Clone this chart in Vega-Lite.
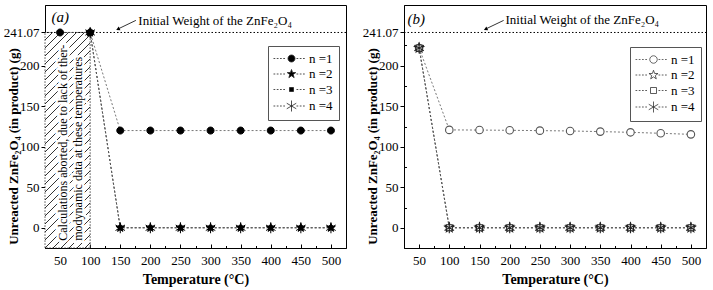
{
  "$schema": "https://vega.github.io/schema/vega-lite/v6.json",
  "background": "white",
  "padding": {"left": 2, "top": 4, "right": 0, "bottom": 0},
  "spacing": 14,
  "config": {
    "view": {"stroke": "black", "strokeWidth": 1},
    "font": "Liberation Serif",
    "axis": {
      "domainColor": "black", "domainWidth": 1, "tickColor": "black", "tickWidth": 1,
      "labelFont": "Liberation Serif", "labelFontSize": 13, "labelColor": "black",
      "titleFont": "Liberation Serif", "titleFontWeight": "bold", "titleColor": "black",
      "grid": false, "labelOverlap": false, "labelFlush": false, "labelBound": false
    },
    "axisX": {"tickSize": -4, "labelPadding": 10, "titleFontSize": 14, "titleBaseline": "alphabetic", "titleY": 35},
    "axisY": {"tickSize": 4, "labelPadding": 2, "titleFontSize": 13, "titleBaseline": "alphabetic", "titleX": -28, "titleY": 141},
    "legend": {
      "labelFont": "Liberation Serif", "labelFontSize": 13, "labelColor": "black",
      "strokeColor": "#555", "strokeWidth": 1, "padding": 6, "rowPadding": 1.5,
      "symbolSize": 100, "symbolStrokeWidth": 0.8, "symbolOffset": 11, "labelOffset": 11
    }
  },
  "datasets": {
    "a": [
      {"n": "n =1", "T": 50, "w": 241.07}, {"n": "n =1", "T": 100, "w": 241.07}, {"n": "n =1", "T": 150, "w": 120}, {"n": "n =1", "T": 200, "w": 120}, {"n": "n =1", "T": 250, "w": 120}, {"n": "n =1", "T": 300, "w": 120}, {"n": "n =1", "T": 350, "w": 120}, {"n": "n =1", "T": 400, "w": 120}, {"n": "n =1", "T": 450, "w": 120}, {"n": "n =1", "T": 500, "w": 120},
      {"n": "n =2", "T": 100, "w": 241.07}, {"n": "n =2", "T": 150, "w": 0}, {"n": "n =2", "T": 200, "w": 0}, {"n": "n =2", "T": 250, "w": 0}, {"n": "n =2", "T": 300, "w": 0}, {"n": "n =2", "T": 350, "w": 0}, {"n": "n =2", "T": 400, "w": 0}, {"n": "n =2", "T": 450, "w": 0}, {"n": "n =2", "T": 500, "w": 0},
      {"n": "n =3", "T": 100, "w": 241.07}, {"n": "n =3", "T": 150, "w": 0}, {"n": "n =3", "T": 200, "w": 0}, {"n": "n =3", "T": 250, "w": 0}, {"n": "n =3", "T": 300, "w": 0}, {"n": "n =3", "T": 350, "w": 0}, {"n": "n =3", "T": 400, "w": 0}, {"n": "n =3", "T": 450, "w": 0}, {"n": "n =3", "T": 500, "w": 0},
      {"n": "n =4", "T": 100, "w": 241.07}, {"n": "n =4", "T": 150, "w": 0}, {"n": "n =4", "T": 200, "w": 0}, {"n": "n =4", "T": 250, "w": 0}, {"n": "n =4", "T": 300, "w": 0}, {"n": "n =4", "T": 350, "w": 0}, {"n": "n =4", "T": 400, "w": 0}, {"n": "n =4", "T": 450, "w": 0}, {"n": "n =4", "T": 500, "w": 0}
    ],
    "b": [
      {"n": "n =1", "T": 50, "w": 222}, {"n": "n =1", "T": 100, "w": 120.8}, {"n": "n =1", "T": 150, "w": 120.6}, {"n": "n =1", "T": 200, "w": 120.3}, {"n": "n =1", "T": 250, "w": 119.9}, {"n": "n =1", "T": 300, "w": 119.5}, {"n": "n =1", "T": 350, "w": 118.7}, {"n": "n =1", "T": 400, "w": 117.8}, {"n": "n =1", "T": 450, "w": 116.6}, {"n": "n =1", "T": 500, "w": 115.3},
      {"n": "n =2", "T": 50, "w": 222}, {"n": "n =2", "T": 100, "w": 0}, {"n": "n =2", "T": 150, "w": 0}, {"n": "n =2", "T": 200, "w": 0}, {"n": "n =2", "T": 250, "w": 0}, {"n": "n =2", "T": 300, "w": 0}, {"n": "n =2", "T": 350, "w": 0}, {"n": "n =2", "T": 400, "w": 0}, {"n": "n =2", "T": 450, "w": 0}, {"n": "n =2", "T": 500, "w": 0},
      {"n": "n =3", "T": 50, "w": 222}, {"n": "n =3", "T": 100, "w": 0}, {"n": "n =3", "T": 150, "w": 0}, {"n": "n =3", "T": 200, "w": 0}, {"n": "n =3", "T": 250, "w": 0}, {"n": "n =3", "T": 300, "w": 0}, {"n": "n =3", "T": 350, "w": 0}, {"n": "n =3", "T": 400, "w": 0}, {"n": "n =3", "T": 450, "w": 0}, {"n": "n =3", "T": 500, "w": 0},
      {"n": "n =4", "T": 50, "w": 222}, {"n": "n =4", "T": 100, "w": 0}, {"n": "n =4", "T": 150, "w": 0}, {"n": "n =4", "T": 200, "w": 0}, {"n": "n =4", "T": 250, "w": 0}, {"n": "n =4", "T": 300, "w": 0}, {"n": "n =4", "T": 350, "w": 0}, {"n": "n =4", "T": 400, "w": 0}, {"n": "n =4", "T": 450, "w": 0}, {"n": "n =4", "T": 500, "w": 0}
    ]
  },
  "resolve": {
    "scale": {"x": "independent", "y": "independent", "shape": "independent", "fill": "independent", "stroke": "independent"},
    "legend": {"shape": "independent", "fill": "independent", "stroke": "independent"}
  },
  "hconcat": [
    {
      "width": 301, "height": 243,
      "resolve": {"axis": {"x": "independent", "y": "independent"}},
      "layer": [
        {
          "resolve": {"scale": {"shape": "independent", "fill": "independent", "stroke": "independent"}, "legend": {"shape": "independent", "fill": "independent", "stroke": "independent"}},
          "layer": [
            {
              "data": {"values": [{}]},
              "mark": {"type": "rect", "stroke": "#222", "strokeWidth": 0.8, "strokeDash": [1.5, 1.5], "fill": {"gradient": "linear", "x1": 0, "y1": 0, "x2": 0.298, "y2": 1.422, "stops": [
                {"offset": 0, "color": "#fff"}, {"offset": 0.021, "color": "#fff"}, {"offset": 0.0215, "color": "#333"}, {"offset": 0.0245, "color": "#333"},
                {"offset": 0.025, "color": "#fff"}, {"offset": 0.046, "color": "#fff"}, {"offset": 0.0465, "color": "#333"}, {"offset": 0.0495, "color": "#333"},
                {"offset": 0.05, "color": "#fff"}, {"offset": 0.071, "color": "#fff"}, {"offset": 0.0715, "color": "#333"}, {"offset": 0.0745, "color": "#333"},
                {"offset": 0.075, "color": "#fff"}, {"offset": 0.096, "color": "#fff"}, {"offset": 0.0965, "color": "#333"}, {"offset": 0.0995, "color": "#333"},
                {"offset": 0.1, "color": "#fff"}, {"offset": 0.121, "color": "#fff"}, {"offset": 0.1215, "color": "#333"}, {"offset": 0.1245, "color": "#333"},
                {"offset": 0.125, "color": "#fff"}, {"offset": 0.146, "color": "#fff"}, {"offset": 0.1465, "color": "#333"}, {"offset": 0.1495, "color": "#333"},
                {"offset": 0.15, "color": "#fff"}, {"offset": 0.171, "color": "#fff"}, {"offset": 0.1715, "color": "#333"}, {"offset": 0.1745, "color": "#333"},
                {"offset": 0.175, "color": "#fff"}, {"offset": 0.196, "color": "#fff"}, {"offset": 0.1965, "color": "#333"}, {"offset": 0.1995, "color": "#333"},
                {"offset": 0.2, "color": "#fff"}, {"offset": 0.221, "color": "#fff"}, {"offset": 0.2215, "color": "#333"}, {"offset": 0.2245, "color": "#333"},
                {"offset": 0.225, "color": "#fff"}, {"offset": 0.246, "color": "#fff"}, {"offset": 0.2465, "color": "#333"}, {"offset": 0.2495, "color": "#333"},
                {"offset": 0.25, "color": "#fff"}, {"offset": 0.271, "color": "#fff"}, {"offset": 0.2715, "color": "#333"}, {"offset": 0.2745, "color": "#333"},
                {"offset": 0.275, "color": "#fff"}, {"offset": 0.296, "color": "#fff"}, {"offset": 0.2965, "color": "#333"}, {"offset": 0.2995, "color": "#333"},
                {"offset": 0.3, "color": "#fff"}, {"offset": 0.321, "color": "#fff"}, {"offset": 0.3215, "color": "#333"}, {"offset": 0.3245, "color": "#333"},
                {"offset": 0.325, "color": "#fff"}, {"offset": 0.346, "color": "#fff"}, {"offset": 0.3465, "color": "#333"}, {"offset": 0.3495, "color": "#333"},
                {"offset": 0.35, "color": "#fff"}, {"offset": 0.371, "color": "#fff"}, {"offset": 0.3715, "color": "#333"}, {"offset": 0.3745, "color": "#333"},
                {"offset": 0.375, "color": "#fff"}, {"offset": 0.396, "color": "#fff"}, {"offset": 0.3965, "color": "#333"}, {"offset": 0.3995, "color": "#333"},
                {"offset": 0.4, "color": "#fff"}, {"offset": 0.421, "color": "#fff"}, {"offset": 0.4215, "color": "#333"}, {"offset": 0.4245, "color": "#333"},
                {"offset": 0.425, "color": "#fff"}, {"offset": 0.446, "color": "#fff"}, {"offset": 0.4465, "color": "#333"}, {"offset": 0.4495, "color": "#333"},
                {"offset": 0.45, "color": "#fff"}, {"offset": 0.471, "color": "#fff"}, {"offset": 0.4715, "color": "#333"}, {"offset": 0.4745, "color": "#333"},
                {"offset": 0.475, "color": "#fff"}, {"offset": 0.496, "color": "#fff"}, {"offset": 0.4965, "color": "#333"}, {"offset": 0.4995, "color": "#333"},
                {"offset": 0.5, "color": "#fff"}, {"offset": 0.521, "color": "#fff"}, {"offset": 0.5215, "color": "#333"}, {"offset": 0.5245, "color": "#333"},
                {"offset": 0.525, "color": "#fff"}, {"offset": 0.546, "color": "#fff"}, {"offset": 0.5465, "color": "#333"}, {"offset": 0.5495, "color": "#333"},
                {"offset": 0.55, "color": "#fff"}, {"offset": 0.571, "color": "#fff"}, {"offset": 0.5715, "color": "#333"}, {"offset": 0.5745, "color": "#333"},
                {"offset": 0.575, "color": "#fff"}, {"offset": 0.596, "color": "#fff"}, {"offset": 0.5965, "color": "#333"}, {"offset": 0.5995, "color": "#333"},
                {"offset": 0.6, "color": "#fff"}, {"offset": 0.621, "color": "#fff"}, {"offset": 0.6215, "color": "#333"}, {"offset": 0.6245, "color": "#333"},
                {"offset": 0.625, "color": "#fff"}, {"offset": 0.646, "color": "#fff"}, {"offset": 0.6465, "color": "#333"}, {"offset": 0.6495, "color": "#333"},
                {"offset": 0.65, "color": "#fff"}, {"offset": 0.671, "color": "#fff"}, {"offset": 0.6715, "color": "#333"}, {"offset": 0.6745, "color": "#333"},
                {"offset": 0.675, "color": "#fff"}, {"offset": 0.696, "color": "#fff"}, {"offset": 0.6965, "color": "#333"}, {"offset": 0.6995, "color": "#333"},
                {"offset": 0.7, "color": "#fff"}, {"offset": 0.721, "color": "#fff"}, {"offset": 0.7215, "color": "#333"}, {"offset": 0.7245, "color": "#333"},
                {"offset": 0.725, "color": "#fff"}, {"offset": 0.746, "color": "#fff"}, {"offset": 0.7465, "color": "#333"}, {"offset": 0.7495, "color": "#333"},
                {"offset": 0.75, "color": "#fff"}, {"offset": 0.771, "color": "#fff"}, {"offset": 0.7715, "color": "#333"}, {"offset": 0.7745, "color": "#333"},
                {"offset": 0.775, "color": "#fff"}, {"offset": 0.796, "color": "#fff"}, {"offset": 0.7965, "color": "#333"}, {"offset": 0.7995, "color": "#333"},
                {"offset": 0.8, "color": "#fff"}, {"offset": 0.821, "color": "#fff"}, {"offset": 0.8215, "color": "#333"}, {"offset": 0.8245, "color": "#333"},
                {"offset": 0.825, "color": "#fff"}, {"offset": 0.846, "color": "#fff"}, {"offset": 0.8465, "color": "#333"}, {"offset": 0.8495, "color": "#333"},
                {"offset": 0.85, "color": "#fff"}, {"offset": 0.871, "color": "#fff"}, {"offset": 0.8715, "color": "#333"}, {"offset": 0.8745, "color": "#333"},
                {"offset": 0.875, "color": "#fff"}, {"offset": 0.896, "color": "#fff"}, {"offset": 0.8965, "color": "#333"}, {"offset": 0.8995, "color": "#333"},
                {"offset": 0.9, "color": "#fff"}, {"offset": 0.921, "color": "#fff"}, {"offset": 0.9215, "color": "#333"}, {"offset": 0.9245, "color": "#333"},
                {"offset": 0.925, "color": "#fff"}, {"offset": 0.946, "color": "#fff"}, {"offset": 0.9465, "color": "#333"}, {"offset": 0.9495, "color": "#333"},
                {"offset": 0.95, "color": "#fff"}, {"offset": 0.971, "color": "#fff"}, {"offset": 0.9715, "color": "#333"}, {"offset": 0.9745, "color": "#333"},
                {"offset": 0.975, "color": "#fff"}, {"offset": 0.996, "color": "#fff"}, {"offset": 0.9965, "color": "#333"}, {"offset": 0.9995, "color": "#333"},
                {"offset": 1, "color": "#fff"}
              ]}},
              "encoding": {
                "x": {"datum": 25, "type": "quantitative", "scale": {"domain": [25, 525], "nice": false, "zero": false},
                      "axis": {"orient": "bottom", "title": "Temperature (°C)", "labelOverlap": false, "values": [50, 150, 250, 350, 450], "labelExpr": "format(datum.value, 'd')"}},
                "x2": {"datum": 100},
                "y": {"datum": -25, "type": "quantitative", "scale": {"domain": [-25, 275], "nice": false, "zero": false},
                      "axis": {"orient": "left", "title": "Unreacted ZnFe₂O₄ (in product) (g)", "labelOverlap": false, "values": [0, 50, 100, 150, 200, 241.07],
                               "labelExpr": "datum.value === 241.07 ? '241.07' : format(datum.value, 'd')"}},
                "y2": {"datum": 241.07}
              }
            },
            {
              "data": {"values": [{}]},
              "mark": {"type": "rule", "color": "black", "strokeWidth": 1, "strokeDash": [1.5, 2]},
              "encoding": {"y": {"datum": 241.07, "type": "quantitative"}}
            },
            {
              "data": {"values": [{}]},
              "mark": {"type": "text", "angle": 270, "align": "left", "baseline": "middle", "font": "Liberation Serif", "fontSize": 12, "lineHeight": 15,
                       "text": ["Calculations  aborted, due to lack of ther-", "modynamic data at these temperatures"], "fill": "white", "stroke": "white", "strokeWidth": 5},
              "encoding": {"x": {"datum": 55, "type": "quantitative"}, "y": {"datum": -16, "type": "quantitative"}}
            },
            {
              "data": {"values": [{}]},
              "mark": {"type": "text", "angle": 270, "align": "left", "baseline": "middle", "font": "Liberation Serif", "fontSize": 12, "lineHeight": 15,
                       "text": ["Calculations  aborted, due to lack of ther-", "modynamic data at these temperatures"], "fill": "black"},
              "encoding": {"x": {"datum": 55, "type": "quantitative"}, "y": {"datum": -16, "type": "quantitative"}}
            },
            {
              "data": {"name": "a"},
              "mark": {"type": "line", "color": "#555", "strokeWidth": 0.8, "strokeDash": [2, 2]},
              "encoding": {"x": {"field": "T", "type": "quantitative"}, "y": {"field": "w", "type": "quantitative"}, "detail": {"field": "n"}}
            },
            {
              "data": {"name": "a"},
              "mark": {"type": "point", "size": 100, "strokeWidth": 1, "opacity": 1},
              "encoding": {
                "x": {"field": "T", "type": "quantitative"},
                "y": {"field": "w", "type": "quantitative"},
                "shape": {"field": "n", "type": "nominal", "legend": null,
                  "scale": {"domain": ["n =1", "n =2", "n =3", "n =4"], "range": [
                    "M0.7,0A0.7,0.7,0,1,1,-0.7,0A0.7,0.7,0,1,1,0.7,0Z",
                    "M0,-0.9L0.212,-0.291L0.856,-0.278L0.342,0.111L0.529,0.728L0,0.36L-0.529,0.728L-0.342,0.111L-0.856,-0.278L-0.212,-0.291Z",
                    "M-0.4,-0.4H0.4V0.4H-0.4Z",
                    "M0,-1.1V1.1M-0.95,-0.55L0.95,0.55M-0.95,0.55L0.95,-0.55"]}},
                "fill": {"field": "n", "type": "nominal", "legend": null, "scale": {"domain": ["n =1", "n =2", "n =3", "n =4"], "range": ["black", "black", "black", "transparent"]}},
                "stroke": {"field": "n", "type": "nominal", "legend": null, "scale": {"domain": ["n =1", "n =2", "n =3", "n =4"], "range": ["black", "black", "black", "black"]}}
              }
            },
            {
              "data": {"values": []},
              "mark": {"type": "point", "size": 100, "strokeWidth": 0.8, "opacity": 1},
              "encoding": {
                "x": {"field": "T", "type": "quantitative"},
                "y": {"field": "w", "type": "quantitative"},
                "shape": {"field": "n", "type": "nominal",
                  "scale": {"domain": ["n =1", "n =2", "n =3", "n =4"], "range": [
                    "M-3.6,0h0.35m0.3,0h0.35m0.3,0h0.35m0.3,0h0.35M1.0,0h0.35m0.3,0h0.35m0.3,0h0.35M0.7,0A0.7,0.7,0,1,1,-0.7,0A0.7,0.7,0,1,1,0.7,0Z",
                    "M-3.6,0h0.35m0.3,0h0.35m0.3,0h0.35m0.3,0h0.35M1.0,0h0.35m0.3,0h0.35m0.3,0h0.35M0,-0.9L0.212,-0.291L0.856,-0.278L0.342,0.111L0.529,0.728L0,0.36L-0.529,0.728L-0.342,0.111L-0.856,-0.278L-0.212,-0.291Z",
                    "M-3.6,0h0.35m0.3,0h0.35m0.3,0h0.35m0.3,0h0.35M1.0,0h0.35m0.3,0h0.35m0.3,0h0.35M-0.4,-0.4H0.4V0.4H-0.4Z",
                    "M-3.6,0h0.35m0.3,0h0.35m0.3,0h0.35m0.3,0h0.35M1.0,0h0.35m0.3,0h0.35m0.3,0h0.35M0,-1.1V1.1M-0.95,-0.55L0.95,0.55M-0.95,0.55L0.95,-0.55"]},
                  "legend": {"title": null, "orient": "none", "legendX": 223, "legendY": 41}},
                "fill": {"field": "n", "type": "nominal", "scale": {"domain": ["n =1", "n =2", "n =3", "n =4"], "range": ["black", "black", "black", "transparent"]}, "legend": {"title": null, "orient": "none", "legendX": 223, "legendY": 41}},
                "stroke": {"field": "n", "type": "nominal", "scale": {"domain": ["n =1", "n =2", "n =3", "n =4"], "range": ["#222", "#222", "#222", "#222"]}, "legend": {"title": null, "orient": "none", "legendX": 223, "legendY": 41}}
              }
            },
            {
              "data": {"values": [{}]},
              "mark": {"type": "text", "text": "(a)", "fontStyle": "italic", "fontSize": 15, "font": "Liberation Serif", "align": "left", "baseline": "middle"},
              "encoding": {"x": {"datum": 36, "type": "quantitative"}, "y": {"datum": 260, "type": "quantitative"}}
            },
            {
              "data": {"values": [{}]},
              "mark": {"type": "text", "text": "Initial Weight of the ZnFe₂O₄", "fontSize": 13, "font": "Liberation Serif", "align": "left", "baseline": "middle"},
              "encoding": {"x": {"datum": 180, "type": "quantitative"}, "y": {"datum": 255, "type": "quantitative"}}
            },
            {
              "data": {"values": [{}]},
              "mark": {"type": "rule", "color": "black", "strokeWidth": 0.8},
              "encoding": {"x": {"datum": 176, "type": "quantitative"}, "y": {"datum": 256, "type": "quantitative"}, "x2": {"datum": 148}, "y2": {"datum": 246}}
            },
            {
              "data": {"values": [{}]},
              "mark": {"type": "point", "shape": "triangle", "filled": true, "color": "black", "size": 18, "angle": 246, "opacity": 1},
              "encoding": {"x": {"datum": 147, "type": "quantitative"}, "y": {"datum": 245.5, "type": "quantitative"}}
            }
          ]
        },
        {
          "data": {"values": [{}]},
          "mark": {"type": "point", "opacity": 0},
          "encoding": {
            "x": {"datum": 25, "type": "quantitative", "axis": {"orient": "bottom", "values": [100, 200, 300, 400, 500], "labelOverlap": false, "labelExpr": "format(datum.value, 'd')", "domain": false, "title": null}}
          }
        },
        {
          "data": {"values": [{}]},
          "mark": {"type": "point", "opacity": 0},
          "encoding": {
            "x": {"datum": 25, "type": "quantitative", "axis": {"orient": "bottom", "values": [75, 125, 175, 225, 275, 325, 375, 425, 475], "labels": false, "domain": false, "title": null, "tickSize": -2.5}},
            "y": {"datum": 0, "type": "quantitative", "axis": {"orient": "left", "values": [25, 75, 125, 175, 225], "labels": false, "domain": false, "title": null, "tickSize": -2.5}}
          }
        }
      ]
    },
    {
      "width": 302, "height": 243,
      "resolve": {"axis": {"x": "independent", "y": "independent"}},
      "layer": [
        {
          "resolve": {"scale": {"shape": "independent", "fill": "independent", "stroke": "independent"}, "legend": {"shape": "independent", "fill": "independent", "stroke": "independent"}},
          "layer": [
            {
              "data": {"values": [{}]},
              "mark": {"type": "rule", "color": "black", "strokeWidth": 1, "strokeDash": [1.5, 2]},
              "encoding": {
                "x": {"datum": 25, "type": "quantitative", "scale": {"domain": [25, 525], "nice": false, "zero": false},
                      "axis": {"orient": "bottom", "title": "Temperature (°C)", "labelOverlap": false, "values": [50, 150, 250, 350, 450], "labelExpr": "format(datum.value, 'd')"}},
                "x2": {"datum": 525},
                "y": {"datum": 241.07, "type": "quantitative", "scale": {"domain": [-25, 275], "nice": false, "zero": false},
                      "axis": {"orient": "left", "title": "Unreacted ZnFe₂O₄ (in product) (g)", "labelOverlap": false, "values": [0, 50, 100, 150, 200, 241.07],
                               "labelExpr": "datum.value === 241.07 ? '241.07' : format(datum.value, 'd')"}}
              }
            },
            {
              "data": {"name": "b"},
              "mark": {"type": "line", "color": "#555", "strokeWidth": 0.8, "strokeDash": [2, 2]},
              "encoding": {"x": {"field": "T", "type": "quantitative"}, "y": {"field": "w", "type": "quantitative"}, "detail": {"field": "n"}}
            },
            {
              "data": {"name": "b"},
              "mark": {"type": "point", "size": 100, "strokeWidth": 1.1, "opacity": 1},
              "encoding": {
                "x": {"field": "T", "type": "quantitative"},
                "y": {"field": "w", "type": "quantitative"},
                "shape": {"field": "n", "type": "nominal", "legend": null,
                  "scale": {"domain": ["n =1", "n =2", "n =3", "n =4"], "range": [
                    "M0.75,0A0.75,0.75,0,1,1,-0.75,0A0.75,0.75,0,1,1,0.75,0Z",
                    "M0,-0.95L0.223,-0.307L0.904,-0.294L0.361,0.117L0.558,0.769L0,0.38L-0.558,0.769L-0.361,0.117L-0.904,-0.294L-0.223,-0.307Z",
                    "M-0.6,-0.6H0.6V0.6H-0.6Z",
                    "M0,-1.1V1.1M-0.95,-0.55L0.95,0.55M-0.95,0.55L0.95,-0.55"]}},
                "fill": {"field": "n", "type": "nominal", "legend": null, "scale": {"domain": ["n =1", "n =2", "n =3", "n =4"], "range": ["white", "white", "white", "transparent"]}},
                "stroke": {"field": "n", "type": "nominal", "legend": null, "scale": {"domain": ["n =1", "n =2", "n =3", "n =4"], "range": ["#555", "#222", "#222", "#222"]}}
              }
            },
            {
              "data": {"values": []},
              "mark": {"type": "point", "size": 100, "strokeWidth": 0.8, "opacity": 1},
              "encoding": {
                "x": {"field": "T", "type": "quantitative"},
                "y": {"field": "w", "type": "quantitative"},
                "shape": {"field": "n", "type": "nominal",
                  "scale": {"domain": ["n =1", "n =2", "n =3", "n =4"], "range": [
                    "M-3.6,0h0.35m0.3,0h0.35m0.3,0h0.35m0.3,0h0.35M1.0,0h0.35m0.3,0h0.35m0.3,0h0.35M0.75,0A0.75,0.75,0,1,1,-0.75,0A0.75,0.75,0,1,1,0.75,0Z",
                    "M-3.6,0h0.35m0.3,0h0.35m0.3,0h0.35m0.3,0h0.35M1.0,0h0.35m0.3,0h0.35m0.3,0h0.35M0,-0.95L0.223,-0.307L0.904,-0.294L0.361,0.117L0.558,0.769L0,0.38L-0.558,0.769L-0.361,0.117L-0.904,-0.294L-0.223,-0.307Z",
                    "M-3.6,0h0.35m0.3,0h0.35m0.3,0h0.35m0.3,0h0.35M1.0,0h0.35m0.3,0h0.35m0.3,0h0.35M-0.6,-0.6H0.6V0.6H-0.6Z",
                    "M-3.6,0h0.35m0.3,0h0.35m0.3,0h0.35m0.3,0h0.35M1.0,0h0.35m0.3,0h0.35m0.3,0h0.35M0,-1.1V1.1M-0.95,-0.55L0.95,0.55M-0.95,0.55L0.95,-0.55"]},
                  "legend": {"title": null, "orient": "none", "legendX": 226, "legendY": 42}},
                "fill": {"field": "n", "type": "nominal", "scale": {"domain": ["n =1", "n =2", "n =3", "n =4"], "range": ["white", "white", "white", "transparent"]}, "legend": {"title": null, "orient": "none", "legendX": 226, "legendY": 42}},
                "stroke": {"field": "n", "type": "nominal", "scale": {"domain": ["n =1", "n =2", "n =3", "n =4"], "range": ["#444", "#333", "#333", "#333"]}, "legend": {"title": null, "orient": "none", "legendX": 226, "legendY": 42}}
              }
            },
            {
              "data": {"values": [{}]},
              "mark": {"type": "text", "text": "(b)", "fontStyle": "italic", "fontSize": 15, "font": "Liberation Serif", "align": "left", "baseline": "middle"},
              "encoding": {"x": {"datum": 31, "type": "quantitative"}, "y": {"datum": 258, "type": "quantitative"}}
            },
            {
              "data": {"values": [{}]},
              "mark": {"type": "text", "text": "Initial Weight of the ZnFe₂O₄", "fontSize": 13, "font": "Liberation Serif", "align": "left", "baseline": "middle"},
              "encoding": {"x": {"datum": 193, "type": "quantitative"}, "y": {"datum": 256, "type": "quantitative"}}
            },
            {
              "data": {"values": [{}]},
              "mark": {"type": "rule", "color": "black", "strokeWidth": 0.8},
              "encoding": {"x": {"datum": 190, "type": "quantitative"}, "y": {"datum": 256, "type": "quantitative"}, "x2": {"datum": 162}, "y2": {"datum": 246}}
            },
            {
              "data": {"values": [{}]},
              "mark": {"type": "point", "shape": "triangle", "filled": true, "color": "black", "size": 18, "angle": 246, "opacity": 1},
              "encoding": {"x": {"datum": 161, "type": "quantitative"}, "y": {"datum": 245.5, "type": "quantitative"}}
            }
          ]
        },
        {
          "data": {"values": [{}]},
          "mark": {"type": "point", "opacity": 0},
          "encoding": {
            "x": {"datum": 25, "type": "quantitative", "axis": {"orient": "bottom", "values": [100, 200, 300, 400, 500], "labelOverlap": false, "labelExpr": "format(datum.value, 'd')", "domain": false, "title": null}}
          }
        },
        {
          "data": {"values": [{}]},
          "mark": {"type": "point", "opacity": 0},
          "encoding": {
            "x": {"datum": 25, "type": "quantitative", "axis": {"orient": "bottom", "values": [75, 125, 175, 225, 275, 325, 375, 425, 475], "labels": false, "domain": false, "title": null, "tickSize": -2.5}},
            "y": {"datum": 0, "type": "quantitative", "axis": {"orient": "left", "values": [25, 75, 125, 175, 225], "labels": false, "domain": false, "title": null, "tickSize": -2.5}}
          }
        }
      ]
    }
  ]
}
